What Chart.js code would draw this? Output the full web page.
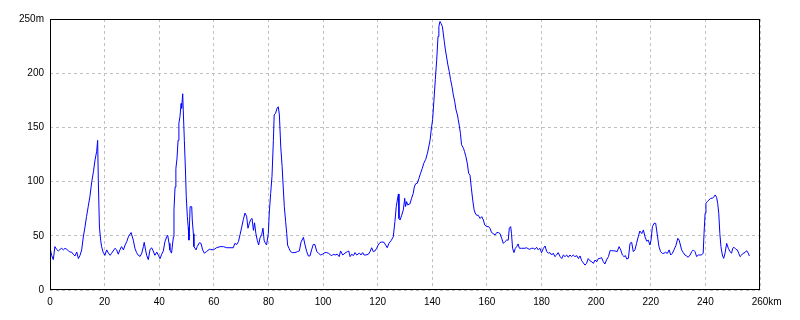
<!DOCTYPE html>
<html>
<head>
<meta charset="utf-8">
<script src="https://cdn.jsdelivr.net/npm/chart.js@4"></script>
<style>
  html, body { margin: 0; padding: 0; background: #ffffff; }
  #wrap { width: 800px; height: 320px; position: relative; }
</style>
</head>
<body>
<div id="wrap"><canvas id="c" width="800" height="320"></canvas></div>
<script>
// distance along the route (km)
const distKm = [
  0, 0.1, 0.6, 1.2, 1.8, 2.4, 3.05, 3.7, 4.3, 4.9, 5.5, 6.1, 6.7, 7.3, 7.9, 8.5, 9.15, 9.8, 10.4, 11.0,
  11.6, 12.2, 12.8, 13.4, 14.0, 14.6, 15.3, 15.9, 16.5, 17.1, 17.45, 17.7, 18.1, 18.55, 18.9, 19.5, 20.1, 20.75, 21.4, 22.0,
  22.6, 23.8, 24.4, 25.0, 25.6, 26.2, 26.9, 27.5, 28.1, 28.7, 29.7, 30.5, 31.1, 31.7, 32.3, 33.0, 33.6, 34.2, 34.5, 35.0,
  35.4, 36.0, 36.6, 37.2, 37.8, 38.4, 39.1, 39.7, 40.3, 40.9, 41.5, 42.1, 42.7, 43.1, 43.6, 43.9,
  44.5, 45.2, 45.4, 45.8, 46.1, 46.5, 46.9, 47.2, 47.6, 48.0, 48.2, 48.6, 48.8, 49.2, 49.6, 49.9, 50.3, 50.6, 50.9, 51.3,
  51.9, 52.1, 52.5, 52.7, 53.5, 53.9, 54.7, 55.3, 55.9, 56.5, 57.3, 58.3,
  58.8, 59.8, 60.4, 61.0, 62.3, 63.5, 64.7, 65.9, 67.1, 67.7, 68.4, 69.0, 69.6, 70.2, 70.8, 71.4, 72.0, 72.5, 73.0, 73.5,
  74.0, 74.5, 74.9, 75.4, 75.9, 76.4, 76.9, 77.5, 78.0, 78.4, 78.9, 79.3, 79.95, 80.3, 80.8, 81.3, 81.8, 82.1, 82.6, 83.2,
  83.6, 84.0, 84.5, 85.0, 85.4, 85.8, 86.3, 86.7, 87.0, 87.5, 88.1, 88.7, 89.7, 90.6, 91.3, 91.9, 92.8, 93.4, 94.0, 94.6,
  95.2, 95.8, 96.4, 97.0, 97.7, 98.3, 99.1, 99.8, 100.7, 101.3, 101.9, 102.5, 103.1, 103.7, 104.4, 105.2, 105.9, 106.4, 107.2, 108.0,
  108.9, 109.4, 109.9, 110.5, 111.1, 111.7, 112.3, 113.3, 113.9, 114.5, 115.0, 115.7, 116.6, 117.2, 117.8, 118.4, 119.0, 119.6, 120.2, 120.8,
  121.5, 122.3, 122.9, 123.5, 124.1, 124.9, 125.7, 126.3, 126.8, 127.2, 127.6, 127.8, 128.2, 128.8, 129.4, 129.9, 130.2, 130.6, 131.0, 131.8,
  132.4, 133.0, 133.4, 133.9, 134.5, 135.1, 135.7, 136.3, 136.9, 137.6, 138.2, 138.7, 139.2, 139.6, 140.1, 140.6, 141.1, 141.6, 142.1, 142.4,
  142.8, 143.2, 143.7, 144.0, 144.4, 144.8, 145.3, 145.7, 146.2, 146.7, 147.2, 147.7, 148.2, 148.7, 149.2, 149.5, 149.9, 150.3, 150.7, 151.4,
  151.8, 152.3, 152.8, 153.3, 153.8, 154.3, 154.8, 155.3, 155.7, 156.2, 156.8, 157.5, 158.1, 158.7, 159.2, 159.9, 160.6, 161.1, 161.7, 162.3,
  163.0, 163.6, 164.2, 164.8, 165.4, 166.0, 166.6, 167.2, 167.8, 168.2, 168.7, 169.0, 169.4, 169.9, 170.4, 170.9, 171.4, 171.9, 172.7, 173.9,
  174.5, 175.5, 176.4, 177.0, 177.6, 178.2, 178.8, 179.4, 180.0, 180.7, 181.3, 181.9, 182.5, 183.1, 183.7, 184.3, 184.9, 185.5, 186.1, 186.8,
  187.4, 188.0, 188.6, 189.2, 189.8, 190.4, 191.0, 191.6, 192.2, 192.9, 193.5, 194.1, 194.7, 195.3, 195.9, 196.5, 197.1, 197.7, 198.4, 199.0,
  199.6, 200.2, 200.8,
  201.4, 202.0, 202.6, 203.2, 203.8, 204.5, 205.1, 205.7, 206.9, 207.7, 208.4, 209.0, 209.6, 210.2, 210.7, 211.2, 211.8, 212.4, 213.0, 213.6,
  214.2, 214.8, 215.4, 216.0, 216.7, 217.3, 217.9, 218.5, 219.1, 219.7, 220.1, 220.6, 221.2, 221.8, 222.4, 223.0, 223.6, 224.2, 224.8, 225.4,
  226.1, 226.7, 227.3, 227.9, 228.5, 229.2, 229.9, 230.4,
  231.3, 231.9, 232.5, 233.1, 233.7, 234.4, 235.0, 235.6, 236.2, 236.8, 237.4, 238.0, 238.6, 239.2, 239.5, 239.9, 240.2, 240.7,
  241.3, 241.9, 242.5, 243.2, 243.6, 244.1, 244.5, 244.9, 245.3, 245.7, 246.2, 246.7, 247.2, 247.8, 248.4, 249.0, 249.6, 250.0, 250.5, 251.2,
  251.7, 252.2, 252.7, 253.3, 253.9, 254.5, 255.1, 255.7, 256.1
];
// elevation (m)
const elevM = [
  46, 38, 32, 28, 40, 37.5, 36, 37.5, 38.5, 37, 38.5, 37.5, 36.3, 35, 35, 33, 31.4, 35, 29, 32,
  37, 49, 58, 68, 77, 86, 100, 109, 120, 128, 138, 100, 58, 46, 40, 34.5, 32, 37, 34, 32,
  34, 38.5, 37, 33, 37, 40, 37, 41.5, 44.6, 49, 53, 46, 38.5, 34.5, 32, 31, 34, 40, 44, 37,
  32, 28, 37, 39, 36, 32, 35, 32, 29, 33, 36, 44.6, 49, 50.5, 43, 37,
  34, 49, 74, 95, 112, 121, 138, 154, 160, 172, 167.6, 181, 166, 138, 110.7, 86, 67.6, 58.4, 46, 76.8,
  76.8, 64.6, 52, 40, 37, 40, 43.6, 43, 37, 34, 35.4, 37.5,
  37.5, 37, 38, 39, 40, 40, 39, 39, 39, 43, 42, 44.6, 51, 58, 65, 71, 68, 57, 61.5, 65,
  66, 55, 62, 52, 46, 41.5, 48, 51, 57, 46, 43, 41.5, 52, 71, 89, 105, 138, 161.5, 163, 168,
  169, 161.5, 132, 114, 95, 77, 63, 52, 41.5, 38.5, 35.4, 34.5, 34.5, 35.4, 36, 44, 48.6, 41.5, 35.4, 31.4,
  31.4, 37, 42, 42, 35.4, 34, 32.3, 33, 34.5, 34.5, 34, 33, 31.4, 33, 32.3, 33, 30.8, 36, 32.3, 34,
  35.4, 36, 30.8, 33, 31.7, 34.5, 32.3, 34, 32.3, 34.5, 32.3, 32.3, 33, 35.4, 39, 35.4, 36, 38.5, 41.5, 43.7,
  44.3, 44, 41.5, 39, 43, 45.5, 49, 63, 77, 83, 88.6, 66, 64.6, 69, 74, 84.6, 77, 81.5, 78.5, 79.4,
  84.6, 89, 95, 98, 98.5, 103, 107.7, 112, 117, 120.6, 126, 132, 138.5, 147.7, 157, 175, 194, 212, 234, 243,
  247.7, 246, 243, 237, 229, 221.5, 214, 207.7, 201.5, 194, 187.7, 180, 174, 166, 161.5, 157, 151.4, 144.6, 134, 130.8,
  127.7, 123, 117, 107.7, 106, 94, 83, 74, 71, 69, 69, 66, 67.7, 64.6, 60, 58.5, 58.5, 57, 53, 52,
  50.8, 53, 53, 52, 47.7, 43, 44.6, 46, 46, 57, 58.5, 52, 38.5, 34.5, 38.5, 40, 42.5, 38.5, 38.5, 38.5,
  39, 37.5, 38.5, 38.5, 37.5, 39.4, 37, 38.5, 34.5, 38.5, 40.6, 35.4, 34, 34.5, 32.3, 34, 30.8, 32.3, 34.5, 30.8,
  29, 32.3, 30.8, 32.3, 30.2, 32.3, 30.8, 32.3, 30.8, 31.7, 29, 31.4, 27, 25, 23, 24.6, 29, 27, 26, 24.6,
  27.7, 26, 29,
  29.2, 29.8, 26.2, 24, 27.7, 30.8, 36.3, 36.3, 36, 35.4, 40, 37, 32.3, 30.8, 31.7, 28.6, 29.2, 43, 44, 35.4,
  37, 43, 49, 54.4, 52, 55.4, 49, 45, 46, 41.5, 46, 58.4, 61.5, 61.5, 50.8, 40, 35.4, 33.8, 33.8, 34.8,
  33.8, 37, 32.3, 33.8, 37, 41, 47.7, 46,
  37, 34.5, 32.3, 31.4, 30.2, 32.3, 35.4, 37, 35.4, 30.8, 32.3, 32.3, 32.3, 34, 52, 70.8, 80, 81.5,
  83, 84.6, 84.6, 86, 87.7, 85.5, 80, 70.8, 52, 40, 32.3, 29.2, 34, 43, 38.5, 35.4, 34, 38.5, 39.4, 37.5,
  37, 34, 30.8, 32.3, 34, 34.5, 36.3, 34, 31.4
];
// axis ticks
const xTicks = [0, 20, 40, 60, 80, 100, 120, 140, 160, 180, 200, 220, 240, 260];
const yTicks = [0, 50, 100, 150, 200, 250];
const xUnit = 'km';
const yUnit = 'm';

const points = distKm.map((d, i) => ({ x: d, y: elevM[i] }));
const FONT = { family: 'Liberation Sans', size: 10 };
const X_PAD = 6;

const frame = {
  id: 'frame',
  afterDraw(chart) {
    const { ctx, chartArea: a, scales } = chart;
    ctx.save();
    ctx.strokeStyle = '#000000';
    ctx.lineWidth = 1;
    ctx.setLineDash([]);
    ctx.strokeRect(Math.round(a.left) + 0.5, Math.round(a.top) + 0.5,
                   Math.round(a.right - a.left) - 1, Math.round(a.bottom - a.top) - 1);
    // unit after the last x tick label, on the tick-label line
    const last = xTicks[xTicks.length - 1];
    ctx.font = FONT.size + 'px ' + FONT.family;
    const w = ctx.measureText(String(last)).width;
    ctx.fillStyle = '#000000';
    ctx.textAlign = 'left';
    ctx.textBaseline = 'middle';
    const lineH = FONT.size * 1.2;
    ctx.fillText(xUnit, scales.x.getPixelForValue(last) + w / 2, scales.x.top + X_PAD + lineH / 2);
    ctx.restore();
  }
};

new Chart(document.getElementById('c'), {
  type: 'line',
  data: {
    datasets: [{
      data: points,
      borderColor: '#0000ff',
      borderWidth: 1,
      pointRadius: 0,
      tension: 0,
      fill: false
    }]
  },
  options: {
    responsive: false,
    animation: false,
    events: [],
    layout: { padding: { left: 0, right: 40, top: 19, bottom: 0 } },
    plugins: { legend: { display: false }, tooltip: { enabled: false } },
    scales: {
      x: {
        type: 'linear',
        min: 0, max: 260,
        afterBuildTicks(s) { s.ticks = xTicks.map(v => ({ value: v })); },
        afterFit(s) { s.height = 30; },
        ticks: { font: FONT, color: '#000000', padding: X_PAD, maxRotation: 0, autoSkip: false },
        grid: { color: '#c0c0c0', lineWidth: 1, drawTicks: false },
        border: { display: false, dash: [3, 3] }
      },
      y: {
        type: 'linear',
        min: 0, max: 250,
        afterBuildTicks(s) { s.ticks = yTicks.map(v => ({ value: v })); },
        afterFit(s) { s.width = 50; },
        ticks: {
          font: FONT, color: '#000000', padding: 6,
          callback: v => v === yTicks[yTicks.length - 1] ? v + yUnit : String(v)
        },
        grid: { color: '#c0c0c0', lineWidth: 1, drawTicks: false },
        border: { display: false, dash: [3, 3] }
      }
    }
  },
  plugins: [frame]
});
</script>
</body>
</html>
